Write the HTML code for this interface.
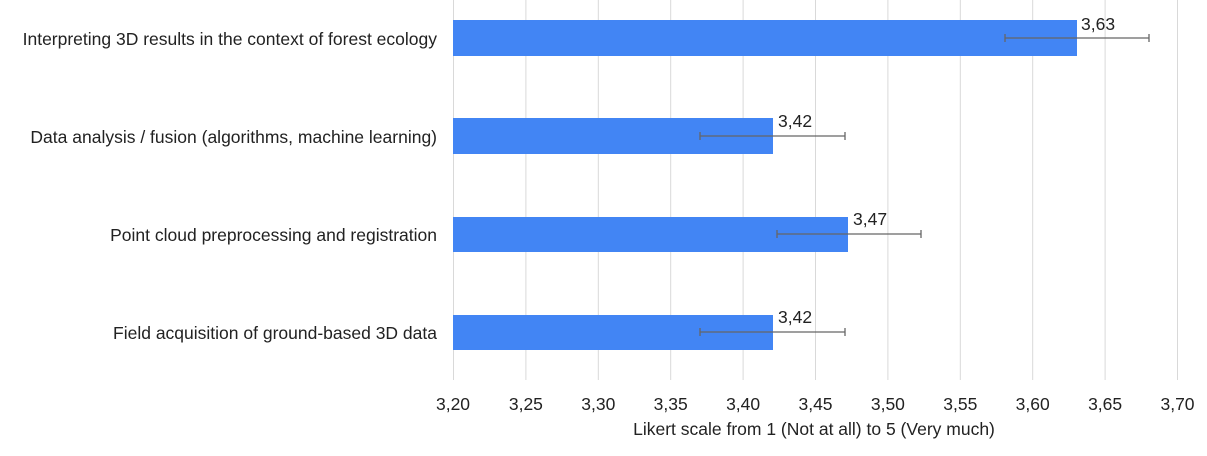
<!DOCTYPE html>
<html><head><style>
body{margin:0;background:#fff;}
svg text{font-family:"Liberation Sans",Arial,sans-serif;fill:#222;}
</style></head><body>
<svg width="1207" height="451" viewBox="0 0 1207 451" xmlns="http://www.w3.org/2000/svg">
<g stroke="#d9d9d9" stroke-width="1">
<line x1="453.5" y1="0" x2="453.5" y2="380"/>
<line x1="525.9" y1="0" x2="525.9" y2="380"/>
<line x1="598.3" y1="0" x2="598.3" y2="380"/>
<line x1="670.7" y1="0" x2="670.7" y2="380"/>
<line x1="743.1" y1="0" x2="743.1" y2="380"/>
<line x1="815.5" y1="0" x2="815.5" y2="380"/>
<line x1="887.9" y1="0" x2="887.9" y2="380"/>
<line x1="960.3" y1="0" x2="960.3" y2="380"/>
<line x1="1032.7" y1="0" x2="1032.7" y2="380"/>
<line x1="1105.1" y1="0" x2="1105.1" y2="380"/>
<line x1="1177.5" y1="0" x2="1177.5" y2="380"/>
</g>
<g fill="#4285f4">
<rect x="453" y="20" width="624" height="36"/>
<rect x="453" y="118" width="320" height="36"/>
<rect x="453" y="217" width="395" height="35"/>
<rect x="453" y="315" width="320" height="35"/>
</g>
<g stroke="#666" stroke-width="1.3" fill="none">
<path d="M1005 38H1149M1005 34V42M1149 34V42"/>
<path d="M700 136H845M700 132V140M845 132V140"/>
<path d="M777 234H921M777 230V238M921 230V238"/>
<path d="M700 332H845M700 328V336M845 328V336"/>
</g>
<g font-size="17.5">
<text x="1081" y="30">3,63</text>
<text x="778" y="127">3,42</text>
<text x="853" y="225">3,47</text>
<text x="778" y="323">3,42</text>
</g>
<g font-size="17.5" text-anchor="end">
<text x="437" y="45">Interpreting 3D results in the context of forest ecology</text>
<text x="437" y="143">Data analysis / fusion (algorithms, machine learning)</text>
<text x="437" y="241">Point cloud preprocessing and registration</text>
<text x="437" y="339">Field acquisition of ground-based 3D data</text>
</g>
<g font-size="17.5" text-anchor="middle">
<text x="453" y="410">3,20</text>
<text x="525.9" y="410">3,25</text>
<text x="598.3" y="410">3,30</text>
<text x="670.7" y="410">3,35</text>
<text x="743.1" y="410">3,40</text>
<text x="815.5" y="410">3,45</text>
<text x="887.9" y="410">3,50</text>
<text x="960.3" y="410">3,55</text>
<text x="1032.7" y="410">3,60</text>
<text x="1105.1" y="410">3,65</text>
<text x="1177.5" y="410">3,70</text>
<text x="814" y="435">Likert scale from 1 (Not at all) to 5 (Very much)</text>
</g>
</svg>
</body></html>
